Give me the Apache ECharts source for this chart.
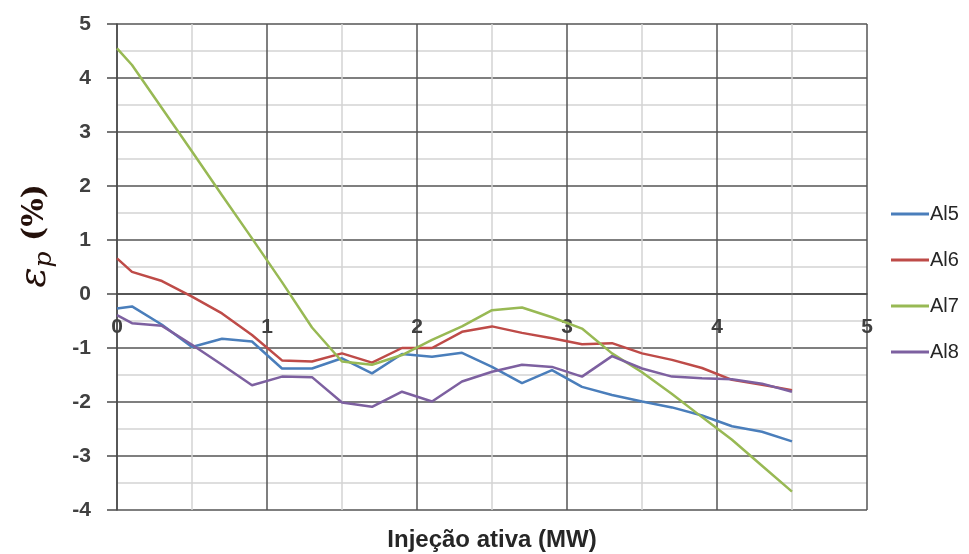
<!DOCTYPE html>
<html>
<head>
<meta charset="utf-8">
<script src="https://cdn.jsdelivr.net/npm/echarts@6/dist/echarts.min.js"></script>
<style>html,body{margin:0;padding:0;background:#fff}#c{width:969px;height:554px}</style>
</head>
<body>
<div id="c"></div>
<script>
const xValues = [0, 0.1, 0.3, 0.5, 0.7, 0.9, 1.1, 1.3, 1.5, 1.7, 1.9, 2.1, 2.3, 2.5, 2.7, 2.9, 3.1, 3.3, 3.5, 3.7, 3.9, 4.1, 4.3, 4.5];
const al5 = [-0.27, -0.23, -0.57, -0.98, -0.83, -0.88, -1.38, -1.38, -1.19, -1.47, -1.11, -1.16, -1.09, -1.35, -1.65, -1.41, -1.72, -1.87, -1.99, -2.10, -2.25, -2.45, -2.55, -2.73];
const al6 = [0.66, 0.41, 0.24, -0.05, -0.36, -0.76, -1.23, -1.25, -1.10, -1.27, -1.00, -1.00, -0.70, -0.60, -0.72, -0.82, -0.93, -0.91, -1.10, -1.22, -1.37, -1.59, -1.68, -1.78];
const al7 = [4.55, 4.24, 3.44, 2.64, 1.83, 1.03, 0.22, -0.62, -1.25, -1.31, -1.13, -0.85, -0.60, -0.30, -0.25, -0.43, -0.64, -1.10, -1.45, -1.85, -2.28, -2.70, -3.18, -3.66];
const al8 = [-0.39, -0.54, -0.59, -0.94, -1.31, -1.69, -1.53, -1.54, -2.01, -2.09, -1.81, -1.99, -1.62, -1.44, -1.31, -1.35, -1.53, -1.15, -1.38, -1.53, -1.56, -1.58, -1.66, -1.81];
const seriesNames = ['Al5', 'Al6', 'Al7', 'Al8'];
const seriesColors = ['#4A7EBB', '#BE4B48', '#98B954', '#7D60A0'];
const xTitle = 'Injeção ativa (MW)';

const seriesData = [al5, al6, al7, al8];
const chart = echarts.init(document.getElementById('c'), null, {renderer: 'canvas'});
const labelFont = {fontFamily: 'Liberation Sans', fontWeight: 'bold', fontSize: 21, color: '#404040'};
chart.setOption({
  animation: false,
  backgroundColor: '#ffffff',
  grid: {left: 117, top: 24, right: 102, bottom: 44, containLabel: false, outerBoundsMode: 'none'},
  legend: {
    orient: 'vertical', left: 886, top: 199, itemWidth: 38, itemHeight: 3, itemGap: 26, icon: 'rect',
    textStyle: {fontFamily: 'Liberation Sans', fontSize: 20, color: '#262626', padding: [0, 0, 0, -4]},
    data: seriesNames
  },
  xAxis: {
    type: 'value', min: 0, max: 5, interval: 1, position: 'bottom', offset: -216,
    name: xTitle, nameLocation: 'middle', nameGap: 234,
    nameTextStyle: {fontFamily: 'Liberation Sans', fontWeight: 'bold', fontSize: 24, color: '#262626'},
    axisLine: {show: true, onZero: false, lineStyle: {color: '#4a4a4a', width: 1.5}},
    axisTick: {show: false},
    axisLabel: Object.assign({margin: 23}, labelFont),
    splitLine: {show: true, lineStyle: {color: '#555555', width: 1.5}},
    minorTick: {show: false, splitNumber: 2},
    minorSplitLine: {show: true, lineStyle: {color: '#d4d4d4', width: 1.5}}
  },
  yAxis: {
    type: 'value', min: -4, max: 5, interval: 1,
    axisLine: {show: true, onZero: false, lineStyle: {color: '#4a4a4a', width: 1.5}},
    axisTick: {show: true, length: 10, inside: false, lineStyle: {color: '#4a4a4a', width: 1.5}},
    axisLabel: Object.assign({margin: 26}, labelFont),
    splitLine: {show: true, lineStyle: {color: '#555555', width: 1.5}},
    minorTick: {show: false, splitNumber: 2},
    minorSplitLine: {show: true, lineStyle: {color: '#d4d4d4', width: 1.5}}
  },
  graphic: [{
    type: 'text', x: 35, y: 236, rotation: Math.PI / 2,
    style: {
      text: '{e|ε}{p|p}{n| (%)}',
      align: 'center', verticalAlign: 'middle',
      rich: {
        e: {fontFamily: 'DejaVu Serif', fontStyle: 'italic', fontSize: 38, fill: '#24100a', lineHeight: 44, verticalAlign: 'middle'},
        p: {fontFamily: 'DejaVu Serif', fontStyle: 'italic', fontSize: 25, fill: '#24100a', lineHeight: 44, verticalAlign: 'bottom'},
        n: {fontFamily: 'DejaVu Serif', fontWeight: 'bold', fontSize: 30, fill: '#24100a', lineHeight: 44, verticalAlign: 'middle'}
      }
    }
  }],
  series: seriesNames.map((name, i) => ({
    name: name, type: 'line', symbol: 'none', smooth: false,
    data: xValues.map((x, j) => [x, seriesData[i][j]]),
    lineStyle: {color: seriesColors[i], width: 2.5},
    itemStyle: {color: seriesColors[i]}
  }))
});
</script>
</body>
</html>
